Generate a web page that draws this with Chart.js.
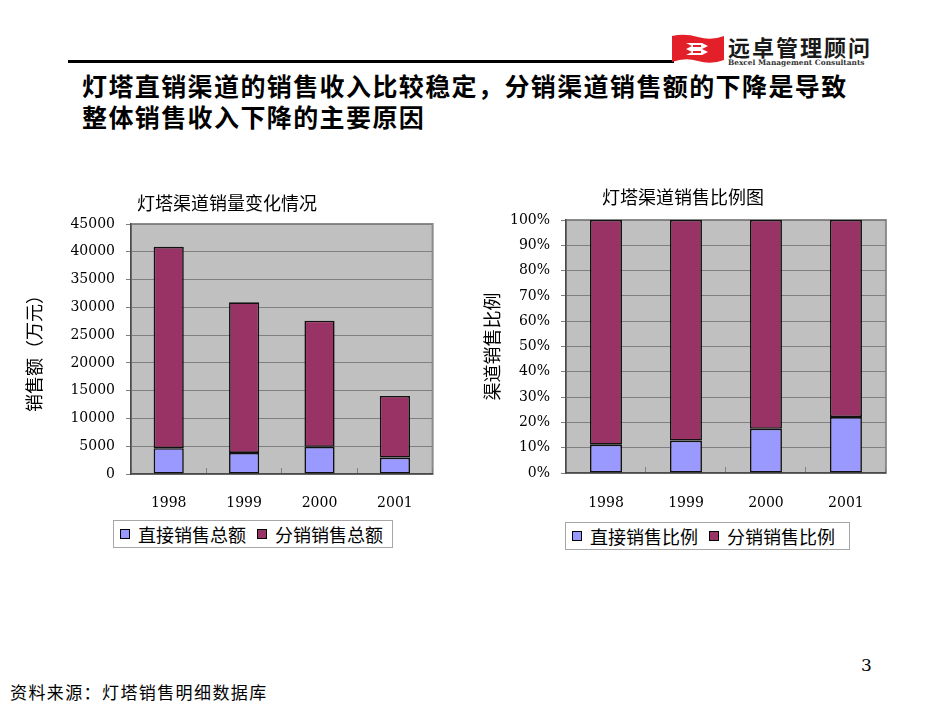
<!DOCTYPE html>
<html>
<head>
<meta charset="utf-8">
<script src="https://cdn.jsdelivr.net/npm/chart.js@4.4.1/dist/chart.umd.min.js"></script>
<style>
  body { margin: 0; width: 950px; height: 713px; background: #fff; position: relative; overflow: hidden;
         font-family: "Noto Sans CJK SC", sans-serif; color: #000; }
  .abs { position: absolute; }
  #rule { left: 68px; top: 60px; width: 606px; height: 3px; background: #000; }
  #brand { left: 728px; top: 33px; font-family: "Noto Sans CJK SC"; font-weight: 700; font-size: 22px;
           letter-spacing: 2px; line-height: 26px; color: #1a1a1a; white-space: nowrap; }
  #brand-en { left: 728px; top: 58px; font-family: "DejaVu Serif"; font-weight: 700; font-size: 7.4px;
              color: #333; white-space: nowrap; }
  #heading { left: 82px; top: 70px; font-weight: 700; font-size: 25px; letter-spacing: 1.4px; line-height: 31px;
             white-space: nowrap; }
  #source { left: 10px; top: 679px; font-size: 17px; letter-spacing: 1.4px; white-space: nowrap; }
  #page { left: 861px; top: 655px; font-family: "DejaVu Serif"; font-size: 17px; }
  canvas { position: absolute; }
  #left-chart { left: 16px; top: 190px; }
  #right-chart { left: 476px; top: 180px; }
  .legend { position: absolute; box-sizing: border-box; border: 1px solid #a6a6a6; background: #fff;
            display: flex; align-items: center; padding-left: 6px; font-size: 18px; white-space: nowrap; }
  .legend .item { display: flex; align-items: center; margin-right: 11px; }
  .legend .sw { width: 10px; height: 10px; border: 1px solid #000; box-sizing: border-box; margin-right: 8px; }
  #left-legend { left: 113px; top: 520px; width: 280px; height: 28px; }
  #right-legend { left: 565px; top: 522px; width: 285px; height: 28px; }
</style>
</head>
<body>
<div id="rule" class="abs"></div>
<svg class="abs" style="left:672px;top:34px" width="52" height="30" viewBox="0 0 52 30">
  <path d="M0 2 Q13 -1 26 3 Q39 7 52 2 L52 26 Q39 31 26 27 Q13 23 0 28 Z" fill="#e3202a"/>
  <path d="M14 9 L30 9 L36 12 L30 15 L36 18 L30 21 L14 21 L20 18 L14 15 L20 12 Z" fill="#fff"/>
  <path d="M21 12 L29 12 M21 18 L29 18" stroke="#e3202a" stroke-width="2.2"/>
</svg>
<div id="brand" class="abs">远卓管理顾问</div>
<div id="brand-en" class="abs">Bexcel Management Consultants</div>
<div id="heading" class="abs">灯塔直销渠道的销售收入比较稳定，分销渠道销售额的下降是导致<br>整体销售收入下降的主要原因</div>

<canvas id="left-chart" width="424" height="324"></canvas>
<canvas id="right-chart" width="416" height="333"></canvas>
<div id="left-legend" class="legend"></div>
<div id="right-legend" class="legend"></div>

<div id="page" class="abs">3</div>
<div id="source" class="abs">资料来源：灯塔销售明细数据库</div>

<script>
const years = ['1998', '1999', '2000', '2001'];

// 万元
const directTotal = [4650, 3800, 4900, 2950];
const distTotal = [36250, 27100, 22700, 11100];
const totalTicks = { min: 0, max: 45000, step: 5000 };

// %
const directShare = [11.2, 12.8, 17.5, 22.1];
const distShare = [88.8, 87.2, 82.5, 77.9];
const shareTicks = { min: 0, max: 100, step: 10 };

const leftNames = ['直接销售总额', '分销销售总额'];
const rightNames = ['直接销售比例', '分销销售比例'];
const seriesColors = ['#9999ff', '#993366'];

const FONT = '"DejaVu Serif", "Noto Sans CJK SC", serif';

const plotFrame = {
  id: 'plotFrame',
  beforeDraw(chart) {
    const { ctx, chartArea: a } = chart;
    ctx.save();
    ctx.fillStyle = '#c0c0c0';
    ctx.fillRect(a.left, a.top, a.width, a.height);
    ctx.strokeStyle = '#8c8c8c';
    ctx.lineWidth = 2;
    ctx.strokeRect(a.left, a.top, a.width, a.height);
    ctx.restore();
  },
};

const buildLegend = (id, names) => {
  document.getElementById(id).innerHTML = names
    .map((n, i) => `<div class="item"><div class="sw" style="background:${seriesColors[i]}"></div>${n}</div>`)
    .join('');
};

const makeChart = (id, cfg) => {
  const datasets = cfg.series.map((data, i) => ({
    label: cfg.names[i],
    data,
    backgroundColor: seriesColors[i],
    borderColor: '#111',
    borderWidth: 1.6,
    borderSkipped: false,
    categoryPercentage: 1,
    barPercentage: 0.4,
  }));

  return new Chart(document.getElementById(id), {
    type: 'bar',
    data: { labels: years, datasets },
    plugins: [plotFrame],
    options: {
      responsive: false,
      animation: false,
      devicePixelRatio: 1,
      layout: { padding: { left: 0, right: 2, top: 0, bottom: 0 } },
      plugins: {
        legend: { display: false },
        tooltip: { enabled: false },
        title: {
          display: true,
          text: cfg.title,
          color: '#000',
          font: { family: FONT, size: 18, weight: 'normal' },
          padding: cfg.titlePad,
        },
      },
      scales: {
        x: {
          stacked: true,
          grid: { display: true, drawOnChartArea: false, tickLength: -6, color: '#808080' },
          border: { color: '#4a4a4a', width: 1.5 },
          ticks: { color: '#000', padding: cfg.xPad, font: { family: FONT, size: 14 } },
          afterFit: (s) => { s.height = 40; },
        },
        y: {
          stacked: true,
          min: cfg.ticks.min,
          max: cfg.ticks.max,
          grid: { color: '#808080', tickLength: 5, tickColor: '#808080' },
          border: { color: '#4a4a4a', width: 1.5 },
          ticks: {
            stepSize: cfg.ticks.step,
            padding: 11,
            color: '#000',
            font: { family: FONT, size: 14 },
            callback: cfg.fmt,
          },
          title: {
            display: true,
            text: cfg.yTitle,
            color: '#000',
            font: { family: FONT, size: 18 },
            padding: { top: cfg.yTitlePad, bottom: 0 },
          },
          afterFit: (s) => { s.width = cfg.yWidth; },
        },
      },
    },
  });
};

makeChart('left-chart', {
  title: '灯塔渠道销量变化情况',
  titlePad: { top: 4.2, bottom: 8.2 },
  names: leftNames,
  series: [directTotal, distTotal],
  ticks: totalTicks,
  fmt: (v) => String(v),
  yTitle: '销售额（万元）',
  yTitlePad: 10,
  yWidth: 115,
  xPad: 27,
});

makeChart('right-chart', {
  title: '灯塔渠道销售比例图',
  titlePad: { top: 8.2, bottom: 10.2 },
  names: rightNames,
  series: [directShare, distShare],
  ticks: shareTicks,
  fmt: (v) => v + '%',
  yTitle: '渠道销售比例',
  yTitlePad: 7.5,
  yWidth: 90,
  xPad: 28,
});

buildLegend('left-legend', leftNames);
buildLegend('right-legend', rightNames);
</script>
</body>
</html>
